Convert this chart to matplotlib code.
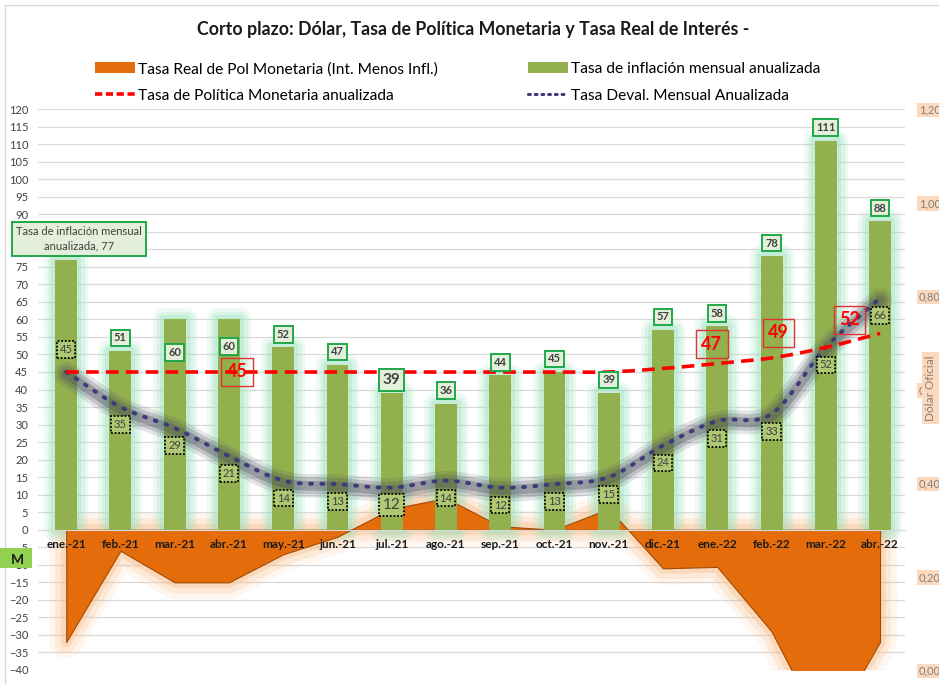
import numpy as np
import matplotlib
matplotlib.use('Agg')
import matplotlib.pyplot as plt
from matplotlib.patches import Patch, Rectangle
from matplotlib.lines import Line2D

plt.rcParams['font.family'] = ['Lato', 'DejaVu Sans']

# ---------------- data ----------------
months = ['ene.-21', 'feb.-21', 'mar.-21', 'abr.-21', 'may.-21', 'jun.-21', 'jul.-21', 'ago.-21',
          'sep.-21', 'oct.-21', 'nov.-21', 'dic.-21', 'ene.-22', 'feb.-22', 'mar.-22', 'abr.-22']
inflacion = [77, 51, 60, 60, 52, 47, 39, 36, 44, 45, 39, 57, 58, 78, 111, 88]
politica = [45, 45, 45, 45, 45, 45, 45, 45, 45, 45, 45, 46, 47.4, 49, 52, 56]
deval = [45, 35, 29, 21, 14, 13, 12, 14, 12, 13, 15, 24, 31, 33, 52, 66]
real = [-32, -6, -15, -15, -7, -2, 6, 9, 1, 0, 6, -11, -10.6, -29, -59, -32]
left_ticks = list(range(-40, 125, 5))
right_ticks = [0.0, 0.2, 0.4, 0.6, 0.8, 1.0, 1.2]

title = 'Corto plazo: Dólar, Tasa de Política Monetaria y Tasa Real de Interés -'
lbl_real = 'Tasa Real de Pol Monetaria (Int. Menos Infl.)'
lbl_infl = 'Tasa de inflación mensual anualizada'
lbl_pol = 'Tasa de Política Monetaria anualizada'
lbl_dev = 'Tasa Deval. Mensual Anualizada'

# ---------------- colours ----------------
C_ORANGE = '#e46c0a'
C_ORANGE_EDGE = '#a04a08'
C_ORANGE_GLOW = '#f9b77c'
C_GREEN = '#93b04f'
C_GREEN_GLOW = '#9fe2bd'
C_RED = '#ff0000'
C_DOT = '#3b3b7a'
C_SHADOW = '#4a4a58'
C_GRID = '#d9d9d9'
C_TXT = '#404040'


def smooth(xs, ys, n=24):
    P = np.column_stack([np.asarray(xs, float), np.asarray(ys, float)])
    P = np.vstack([2 * P[0] - P[1], P, 2 * P[-1] - P[-2]])
    out = []
    t = np.linspace(0, 1, n, endpoint=False)[:, None]
    for i in range(1, len(P) - 2):
        p0, p1, p2, p3 = P[i - 1], P[i], P[i + 1], P[i + 2]
        c = 0.5 * (2 * p1 + (-p0 + p2) * t + (2 * p0 - 5 * p1 + 4 * p2 - p3) * t ** 2
                   + (-p0 + 3 * p1 - 3 * p2 + p3) * t ** 3)
        out.append(c)
    out.append(P[-2][None, :])
    c = np.vstack(out)
    return c[:, 0], c[:, 1]


W, H = 939, 684
fig = plt.figure(figsize=(W / 100, H / 100), dpi=100)
ax = fig.add_axes([38 / W, 1 - 670 / H, (905 - 38) / W, (670 - 109) / H])
ax.set_xlim(-0.52, 15.46)
ax.set_ylim(-40, 120)

x = np.arange(len(months))

# grid
ax.set_yticks(left_ticks)
ax.yaxis.grid(True, color=C_GRID, lw=0.9)
ax.set_axisbelow(True)
for s in ['left', 'right', 'top']:
    ax.spines[s].set_visible(False)
ax.spines['bottom'].set_position(('data', 0))
ax.spines['bottom'].set_color(C_GRID)
ax.tick_params(axis='y', length=0, labelsize=8, labelcolor=C_TXT, pad=7)
ax.set_xticks(x)
ax.set_xticklabels(months, fontsize=8.5, fontweight='bold', color='#1a1a1a')
ax.tick_params(axis='x', length=0, pad=7)
ax.xaxis.set_zorder(10)

# real-rate area with glow
for lw, a in [(24, 0.12), (16, 0.2), (8, 0.32)]:
    ax.fill_between(x, real, 0, facecolor='none', edgecolor=C_ORANGE_GLOW, lw=lw, alpha=a,
                    joinstyle='round', zorder=1)
# bar glow
bw = 0.405
for lw, a in [(16, 0.18), (11, 0.25), (6, 0.35)]:
    ax.bar(x, inflacion, width=bw, color='none', edgecolor=C_GREEN_GLOW, linewidth=lw, alpha=a,
           joinstyle='round', zorder=1.5)
ax.fill_between(x, real, 0, facecolor=C_ORANGE, edgecolor=C_ORANGE_EDGE, lw=0.8, zorder=2)
ax.bar(x, inflacion, width=bw, color=C_GREEN, zorder=3)

# devaluation dotted line with shadow
sx, sy = smooth(x, deval)
for lw, a in [(17, 0.14), (12, 0.22), (7, 0.32)]:
    ax.plot(sx, sy - 0.6, color=C_SHADOW, lw=lw, alpha=a, solid_capstyle='round', zorder=4)
ax.plot(sx, sy, color=C_DOT, lw=2.8, ls=(0, (0.5, 2.4)), dash_capstyle='round', zorder=4.5)

# policy rate dashed
px, py = smooth(x, politica)
ax.plot(px, py, color=C_RED, lw=2.6, ls=(0, (3.5, 2)), zorder=5)

# ---- labels: inflation ----
box_g = dict(boxstyle='square,pad=0.25', fc='#e3efda', ec='#1fa84a', lw=1.4)
infl_off = {2: -24, 3: -19.5}
for i, v in enumerate(inflacion):
    if i == 0:
        ax.annotate(f'Tasa de inflación mensual\nanualizada, {v}', xy=(i, v), xytext=(9, 15),
                    textcoords='offset points', ha='center', va='center', fontsize=8,
                    color=C_TXT, linespacing=1.4, zorder=8, annotation_clip=False,
                    bbox=dict(boxstyle='square,pad=0.35', fc='#e3efda', ec='#1fa84a', lw=1.4))
        continue
    dy = infl_off.get(i, 9.4)
    fs = 11 if i == 6 else 8
    ax.annotate(f'{v}', xy=(i, v), xytext=(0, dy), textcoords='offset points', ha='center',
                va='center', fontsize=fs, fontweight='bold', color=C_TXT, zorder=8, bbox=box_g)

# ---- labels: devaluation ----
box_d = dict(boxstyle='square,pad=0.25', fc='#aec873', ec='black', lw=1.3, ls=(0, (1, 1)))
for i, v in enumerate(deval):
    dy = 16 if i == 0 else -12.5
    fs = 11 if i == 6 else 8
    ax.annotate(f'{v}', xy=(i, v), xytext=(0, dy), textcoords='offset points', ha='center',
                va='center', fontsize=fs, color=C_TXT, zorder=7, bbox=box_d)

# ---- labels: policy rate ----
pol_lbl = {3: (6, 0), 12: (-4, 14), 13: (5, 18), 14: (17, 20)}
box_r = dict(boxstyle='square,pad=0.3', fc='none', ec='#e03232', lw=1.0)
for i, (dx, dy) in pol_lbl.items():
    ax.annotate(f'{politica[i]:.0f}', xy=(i, politica[i]), xytext=(dx, dy),
                textcoords='offset points', ha='center', va='center', fontsize=13,
                fontweight='bold', color=C_RED, zorder=9, bbox=box_r)

# ---- right axis ----
ax2 = ax.twinx()
ax2.set_ylim(0, 1.2)
ax2.set_yticks(right_ticks)
ax2.set_yticklabels([f'{t:.2f}'.replace('.', ',') for t in right_ticks])
for s in ax2.spines.values():
    s.set_visible(False)
ax2.tick_params(axis='y', length=0, labelsize=8, labelcolor='#7f7f7f', pad=10)
for lb in ax2.get_yticklabels():
    lb.set_bbox(dict(boxstyle='square,pad=0.15', fc='#fcd9bd', ec='none'))
fig.text(931 / W, 1 - 388 / H, 'Dólar Oficial', rotation=90, ha='center', va='center',
         fontsize=8.5, color='#7f7f7f',
         bbox=dict(boxstyle='square,pad=0.3', fc='#fcd9bd', ec='none'))

# ---- title & legend ----
fig.text((197 + 750) / 2 / W, 1 - 30 / H, title, ha='center', va='center', fontsize=12.8,
         fontweight='bold', color='#1a1a1a')
handles = [Patch(fc=C_ORANGE, ec='none'),
           Line2D([], [], color=C_RED, lw=2.6, ls=(0, (2, 1))),
           Patch(fc=C_GREEN, ec='none'),
           Line2D([], [], color=C_DOT, lw=2.2, ls=(0, (0.6, 1.6)), dash_capstyle='round')]
labels = [lbl_real, lbl_pol, lbl_infl, lbl_dev]
fig.legend(handles, labels, ncol=2, loc='upper left', bbox_to_anchor=(95 / W, 1 - 62 / H),
           frameon=False, fontsize=11.2, handlelength=2.6, handletextpad=0.15,
           columnspacing=5.8, labelspacing=0.8, borderpad=0, borderaxespad=0)

# border and small marker box
fig.add_artist(Line2D([5 / W, 5 / W], [0, 1 - 5 / H], transform=fig.transFigure, color=C_GRID, lw=1))
fig.add_artist(Line2D([5 / W, 1], [1 - 5 / H, 1 - 5 / H], transform=fig.transFigure, color=C_GRID, lw=1))
fig.add_artist(Rectangle((0, 1 - 568 / H), 32 / W, 20 / H, transform=fig.transFigure,
                         fc='#92d050', ec='none', zorder=10))
fig.text(17 / W, 1 - 560 / H, 'M', ha='center', va='center', fontsize=10, fontweight='bold',
         color='#1a1a1a', zorder=11)

fig.savefig('out.png', dpi=100)
